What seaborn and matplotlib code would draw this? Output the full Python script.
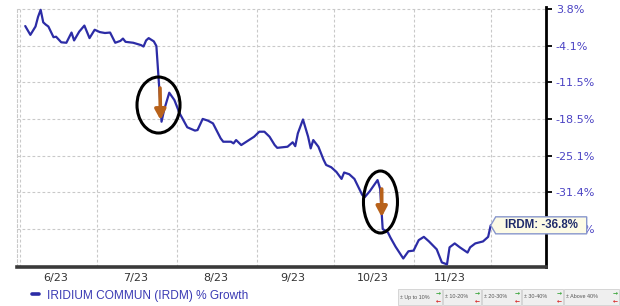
import numpy as np
import pandas as pd
import matplotlib
matplotlib.use("Agg")
import matplotlib.pyplot as plt
import matplotlib.dates as mdates
from matplotlib.ticker import FixedLocator, FixedFormatter, NullFormatter
from matplotlib.patches import Ellipse, Polygon, Rectangle
from matplotlib.transforms import IdentityTransform
import seaborn as sns

# ---------------- data ----------------
start_date = "2023-06-01"
day_offsets = [2, 4, 6, 7, 8, 9, 10, 11, 13, 14, 16, 18, 20, 21, 23, 25, 27, 29, 31, 33,
               35, 37, 39, 40, 41, 44, 47, 48, 49, 50, 52, 53, 55, 56, 58, 60, 62, 65, 66, 68,
               69, 71, 73, 75, 78, 79, 82, 83, 84, 86, 88, 91, 93, 95, 97, 99, 100, 104, 106, 107,
               108, 110, 112, 113, 114, 116, 118, 119, 121, 123, 125, 126, 128, 130, 133, 134, 136, 139, 140, 141,
               143, 144, 146, 149, 151, 153, 155, 157, 159, 162, 164, 166, 167, 169, 171, 174, 175, 177, 180, 182,
               183]
growth = [0.1, -1.8, 0.0, 2.1, 3.6, 0.9, 0.4, 0.0, -2.3, -2.2, -3.4, -3.5, -1.3, -3.0, -1.1, 0.2, -2.5, -0.7, -1.2, -1.4,
          -1.3, -3.5, -3.1, -2.6, -3.3, -3.5, -4.0, -4.3, -3.0, -2.5, -3.2, -4.2, -19.0, -16.8, -13.5, -14.9, -17.4, -20.0, -20.2, -20.6,
          -20.5, -18.5, -18.8, -19.3, -22.0, -22.6, -22.6, -22.9, -22.3, -23.2, -22.6, -21.7, -20.8, -20.8, -21.7, -23.2, -23.7, -23.5, -22.7, -23.4,
          -21.1, -18.6, -21.7, -23.8, -22.3, -23.5, -25.8, -26.7, -27.1, -27.9, -29.1, -28.0, -28.3, -29.1, -31.8, -32.2, -31.2, -29.3, -30.8, -37.4,
          -37.9, -38.7, -40.1, -41.9, -40.8, -40.7, -39.1, -38.6, -39.3, -40.5, -42.5, -42.8, -40.2, -39.6, -40.2, -41.0, -40.2, -39.6, -39.3, -38.6,
          -36.8]
y_ticks = [3.8, -4.1, -11.5, -18.5, -25.1, -31.4, -37.4]
y_tick_labels = ["3.8%", "-4.1%", "-11.5%", "-18.5%", "-25.1%", "-31.4%", "-37.4%"]
x_label_dates = ["2023-06-15", "2023-07-16", "2023-08-16", "2023-09-15", "2023-10-16", "2023-11-15"]
x_labels = ["6/23", "7/23", "8/23", "9/23", "10/23", "11/23"]
series_name = "IRIDIUM COMMUN (IRDM) % Growth"
last_label = "IRDM: -36.8%"
band_labels = ["± Up to 10%", "± 10-20%", "± 20-30%", "± 30-40%", "± Above 40%"]

# chart's axis: tick levels are equally spaced on screen
scale_vals = np.array([-60.0, -43.0] + y_ticks[::-1] + [11.7, 30.0])
scale_pos = np.array([-10.04, -7.0, -6.0, -5.0, -4.0, -3.0, -2.0, -1.0, 0.0, 1.0, 3.32])

def fwd(v):
    return np.interp(v, scale_vals, scale_pos)

def inv(p):
    return np.interp(p, scale_pos, scale_vals)

# ---------------- style ----------------
sns.set_style("white")
plt.rcParams["font.family"] = ["DejaVu Sans"]

line_color = "#2c2ca6"
label_blue = "#4b43c4"
grid_color = "#c9c9c9"

W, H = 620, 306
fig = plt.figure(figsize=(W / 100, H / 100), dpi=100)
ax = fig.add_axes([17 / W, (H - 267) / H, (546 - 17) / W, (267 - 7) / H])

df = pd.DataFrame({
    "date": pd.Timestamp(start_date) + pd.to_timedelta(day_offsets, unit="D"),
    "growth": growth,
})
sns.lineplot(data=df, x="date", y="growth", ax=ax, color=line_color, lw=1.6,
             label=series_name, zorder=3)

ax.set_yscale("function", functions=(fwd, inv))
base = pd.Timestamp(start_date)
ax.set_xlim(base + pd.Timedelta(days=-1.2), base + pd.Timedelta(days=204.5))
ax.set_ylim(-43.2, 4.2)

# y axis on the right
ax.yaxis.tick_right()
ax.yaxis.set_major_locator(FixedLocator(y_ticks))
ax.yaxis.set_major_formatter(FixedFormatter(y_tick_labels))
ax.yaxis.set_minor_locator(FixedLocator([]))
ax.tick_params(axis="y", which="major", direction="out", length=4, width=1.3,
               color="black", labelsize=8, labelcolor=label_blue, pad=3)

# x axis: grid at month starts, labels mid-month
ax.xaxis.set_major_locator(mdates.MonthLocator(bymonthday=1))
ax.xaxis.set_major_formatter(NullFormatter())
ax.xaxis.set_minor_locator(FixedLocator(mdates.date2num(pd.to_datetime(x_label_dates))))
ax.xaxis.set_minor_formatter(FixedFormatter(x_labels))
ax.tick_params(axis="x", which="both", length=0, labelsize=8, labelcolor="#333333", pad=4)
ax.set_xlabel("")
ax.set_ylabel("")

ax.grid(True, which="major", axis="both", color=grid_color, lw=0.8, ls=(0, (2.5, 2)))

ax.spines["top"].set_visible(False)
ax.spines["left"].set_color(grid_color)
ax.spines["left"].set_linewidth(0.8)
ax.spines["left"].set_linestyle((0, (2.5, 2)))
ax.spines["right"].set_color("black")
ax.spines["right"].set_linewidth(2.0)
ax.spines["bottom"].set_color("#3a3a3a")
ax.spines["bottom"].set_linewidth(2.6)

# legend (bottom left)
leg = ax.legend(loc="center left", bbox_to_anchor=(32 / W, 10.5 / H), bbox_transform=fig.transFigure,
                frameon=False, handlelength=0.55, handletextpad=0.7, borderpad=0, borderaxespad=0,
                prop={"family": "Liberation Sans", "size": 8.6})
for t in leg.get_texts():
    t.set_color("#3b3bb4")
for l in leg.get_lines():
    l.set_linewidth(2.6)

# circled drops with arrows
arrow_color = "#b8621b"
for (cx, cy, ew, eh) in [(0.2675, 0.623, 0.0813, 0.2154), (0.6871, 0.25, 0.0643, 0.2385)]:
    ax.add_patch(Ellipse((cx, cy), ew, eh, transform=ax.transAxes, fill=False,
                         ec="black", lw=2.2, zorder=5, clip_on=False))
for (tail, tip) in [((0.2703, 0.6885), (0.2713, 0.5654)), ((0.6894, 0.300), (0.6894, 0.1923))]:
    ax.annotate("", xy=tip, xytext=tail, xycoords="axes fraction", textcoords="axes fraction",
                arrowprops=dict(arrowstyle="-|>,head_width=0.32,head_length=0.6", lw=2.6,
                                color=arrow_color, shrinkA=0, shrinkB=0), zorder=4)

# last value tag
fig.canvas.draw()
px, py = ax.transData.transform((mdates.date2num(df["date"].iloc[-1]), df["growth"].iloc[-1]))
verts = [(px, py), (px + 5, py + 8.5), (px + 96, py + 8.5), (px + 96, py - 8.5), (px + 5, py - 8.5)]
tag = Polygon(verts, closed=True, transform=IdentityTransform(), facecolor="#fdfbe6",
              edgecolor="#8796cc", lw=1.0, zorder=10)
fig.add_artist(tag)
fig.text((px + 51) / W, py / H, last_label, ha="center", va="center", fontsize=8.3,
         fontweight="bold", color="#1f2b6b", family="Liberation Sans", zorder=11)

# bottom-right band legend
boxes = [(398, 442), (443, 481), (482, 521), (522, 563), (564, 619)]
for (x0, x1), lab in zip(boxes, band_labels):
    fig.add_artist(Rectangle((x0 / W, 1 / H), (x1 - x0) / W, 16 / H, transform=fig.transFigure,
                             facecolor="#efefef", edgecolor="#d6d6d6", lw=0.7, zorder=1))
    fig.text((x0 + 2) / W, 9 / H, lab, fontsize=3.9, color="#555555", family="Liberation Sans",
             ha="left", va="center", zorder=2)
    fig.text((x1 - 1.5) / W, 12.8 / H, "→", fontsize=4.3, color="#2ea02e", ha="right", va="center",
             fontweight="bold", zorder=2)
    fig.text((x1 - 1.5) / W, 5.2 / H, "←", fontsize=4.3, color="#d62020", ha="right", va="center",
             fontweight="bold", zorder=2)

fig.savefig("out.png", dpi=100)
